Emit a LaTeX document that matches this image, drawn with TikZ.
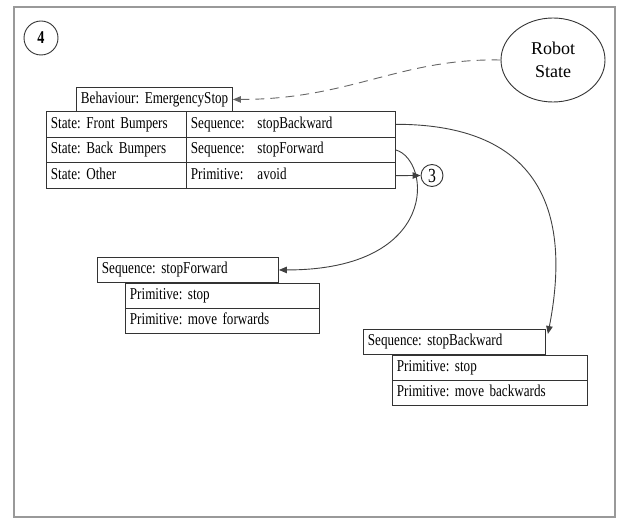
\documentclass[tikz,border=0pt]{standalone}
\usepackage{fontspec}
\setmainfont{Liberation Serif}
\newfontfamily\narrowserif[FakeStretch=0.79, WordSpace=0.7]{Liberation Serif}
\usetikzlibrary{arrows.meta,shapes.geometric}
\frenchspacing

\tikzset{
  ink/.style={draw=black!80, line width=0.9pt},
  cell/.style={ink, rectangle, anchor=north west, inner xsep=4.5pt, inner ysep=0pt,
    align=left, text height=11pt, text depth=3.5pt,
    font=\narrowserif\fontsize{16.6}{18}\selectfont},
  % outer width of a cell, text area follows from it
  cw/.code={\pgfmathsetmacro\cwtext{#1-9}\tikzset{text width=\cwtext pt, minimum width=#1pt}},
  tag/.style={ink, circle, inner sep=0pt},
  link/.style={draw=black!75, line width=0.9pt, -{Triangle[length=8pt,width=6.5pt]}},
  feed/.style={link, draw=black!60, dash pattern=on 9pt off 6pt}
}
\newcommand{\tabbed}[2]{\makebox[66.5pt][l]{#1}#2}

\begin{document}
\begin{tikzpicture}[x=1pt, y=-1pt]
  \useasboundingbox (0,0) rectangle (620,521);
  \draw[black!40, line width=1.5pt] (14,7) rectangle (615,517);

  % labels and the state source
  \node[tag, minimum size=34pt, font=\narrowserif\fontsize{18}{18}\selectfont\bfseries] (four) at (41,38) {4};
  \node[ink, ellipse, minimum width=104pt, minimum height=84pt, inner sep=0pt,
        align=center, font=\fontsize{18}{23}\selectfont] (rs) at (553,60) {Robot\\State};

  % behaviour header
  \node[cell, cw=156, minimum height=24pt] (beh) at (76,87) {\mbox{Behaviour: EmergencyStop}};

  % state / action table
  \node[cell, cw=140, minimum height=25.7pt] (r1l) at (46,111)   {\mbox{State: Front Bumpers}};
  \node[cell, cw=209, minimum height=25.7pt] (r1r) at (186,111)  {\tabbed{Sequence:}{stopBackward}};
  \node[cell, cw=140, minimum height=25.7pt] (r2l) at (46,136.7) {\mbox{State: Back Bumpers}};
  \node[cell, cw=209, minimum height=25.7pt] (r2r) at (186,136.7){\tabbed{Sequence:}{stopForward}};
  \node[cell, cw=140, minimum height=25.7pt] (r3l) at (46,162.3) {State: Other};
  \node[cell, cw=209, minimum height=25.7pt] (r3r) at (186,162.3){\tabbed{Primitive:}{avoid}};

  \node[tag, minimum size=22pt, font=\narrowserif\fontsize{20}{20}\selectfont] (three) at (432,175.5) {3};

  % sequence stopForward
  \node[cell, cw=181, minimum height=25pt] (sf)  at (97,257)  {Sequence: stopForward};
  \node[cell, cw=194, minimum height=25pt] (sf1) at (125,283) {Primitive: stop};
  \node[cell, cw=194, minimum height=25pt] (sf2) at (125,308) {Primitive: move forwards};

  % sequence stopBackward
  \node[cell, cw=182, minimum height=25pt] (sb)  at (363,329) {Sequence: stopBackward};
  \node[cell, cw=195, minimum height=25pt] (sb1) at (392,355) {Primitive: stop};
  \node[cell, cw=195, minimum height=25pt] (sb2) at (392,380) {Primitive: move backwards};

  \coordinate (sbin) at ([xshift=2pt,yshift=-5pt]sb.north east);

  % connectors
  \draw[feed] (rs.west) .. controls +(-100,-2) and +(117,0) .. (beh.east);
  \draw[link] (r3r.east) -- (three.west);
  \draw[link] (r2r.east) .. controls +(35,10) and +(162,0) .. (sf.east);
  \draw[link] (r1r.east) .. controls +(125,0) and +(28,-144) .. (sbin);
\end{tikzpicture}
\end{document}
